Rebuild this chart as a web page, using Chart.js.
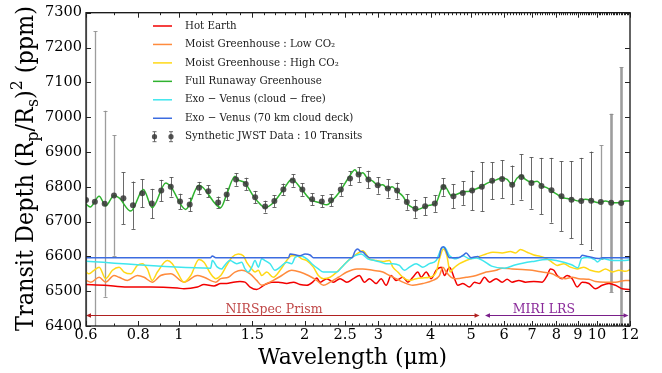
<!DOCTYPE html>
<html><head><meta charset="utf-8">
<script src="https://cdn.jsdelivr.net/npm/chart.js@4.4.1/dist/chart.umd.min.js"></script>
<style>html,body{margin:0;padding:0;background:#fff;}canvas{display:block;}</style>
</head><body>
<canvas id="c" width="662" height="373"></canvas>
<script>
// ---------- DATA ----------
const xTickValues = [0.6,0.8,1,1.5,2,2.5,3,4,5,6,7,8,9,10,12];
const xTickLabels = ['0.6','0.8','1','1.5','2','2.5','3','4','5','6','7','8','9','10','12'];
const yTickValues = [6400,6500,6600,6700,6800,6900,7000,7100,7200,7300];

// Synthetic JWST data (10 transits)
const dataWave = [0.600,0.630,0.665,0.700,0.737,0.777,0.818,0.862,0.908,0.957,1.007,1.062,1.118,1.177,1.242,1.302,1.371,1.446,1.523,1.609,1.693,1.779,1.873,1.975,2.084,2.198,2.313,2.441,2.568,2.692,2.842,2.992,3.162,3.328,3.511,3.681,3.883,4.096,4.295,4.538,4.779,5.031,5.307,5.617,5.934,6.272,6.600,6.973,7.369,7.787,8.228,8.695,9.174,9.692,10.22,10.82,11.43];
const dataDepth = [6762,6757,6751,6775,6767,6747,6781,6752,6789,6800,6758,6749,6797,6787,6755,6778,6821,6808,6770,6743,6759,6792,6818,6792,6764,6758,6761,6792,6824,6835,6821,6804,6795,6789,6756,6737,6744,6752,6799,6773,6782,6789,6800,6817,6822,6806,6828,6811,6802,6790,6773,6763,6759,6760,6756,6754,6753];
const dataError = [600,489,267,173,74,68,40,42,31,28,22,20,17,17,17,17,18,18,18,17,17,17,18,18,17,17,17,18,20,21,25,24,26,23,22,26,26,24,25,34,34,57,71,53,54,55,65,74,81,93,100,111,124,141,163,256,390];

// Full Runaway Greenhouse
const greenWave = [0.600,0.614,0.645,0.669,0.700,0.720,0.768,0.823,0.864,0.931,0.957,1.039,1.118,1.260,1.302,1.363,1.376,1.440,1.508,1.565,1.608,1.683,1.779,1.863,1.969,2.061,2.178,2.260,2.322,2.431,2.545,2.641,2.689,2.755,2.832,2.911,2.993,3.076,3.162,3.238,3.328,3.435,3.531,3.629,3.731,3.835,3.977,4.127,4.242,4.296,4.378,4.483,4.608,4.781,4.958,5.096,5.288,5.486,5.640,5.773,5.934,6.100,6.271,6.445,6.600,6.747,6.974,7.196,7.397,7.604,7.817,8.035,8.227,8.489,8.727,9.055,9.390,9.744,10.111,10.485,10.879,11.289,11.707,12.0];
const greenDepth = [6750,6742,6773,6745,6775,6768,6730,6792,6740,6811,6800,6735,6804,6740,6778,6830,6822,6811,6773,6750,6740,6754,6792,6821,6792,6764,6754,6748,6759,6787,6825,6849,6835,6840,6822,6816,6804,6806,6794,6800,6787,6773,6750,6740,6735,6740,6747,6754,6792,6804,6794,6775,6778,6785,6787,6792,6800,6811,6816,6821,6825,6821,6806,6825,6832,6821,6813,6816,6802,6797,6787,6778,6770,6766,6764,6759,6764,6759,6754,6759,6754,6754,6759,6759];

// Exo-Venus (70 km cloud deck)
const blueWave = [0.6,1.19,1.203,1.226,1.83,1.846,1.95,2.005,2.061,2.099,2.597,2.64,2.68,2.72,2.76,2.80,2.86,4.19,4.242,4.296,4.34,4.44,4.69,4.80,4.87,5.00,5.19,5.25,9.10,9.22,9.50,10.1,10.3,12.0];
const blueDepth = [6596,6596,6601,6596,6596,6607,6602,6607,6604,6596,6596,6615,6621,6614,6612,6604,6596,6596,6623,6628,6621,6596,6597,6604,6610,6596,6600,6596,6596,6603,6600,6594,6596,6596];

// Exo-Venus (cloud-free)
const cyanWave = [0.6,1.192,1.203,1.237,1.269,1.278,1.326,1.376,1.414,1.440,1.467,1.495,1.522,1.550,1.579,1.608,1.653,1.699,1.747,1.812,1.863,1.897,1.950,2.024,2.080,2.157,2.218,2.301,2.388,2.454,2.545,2.641,2.730,2.832,2.937,3.048,3.133,3.251,3.371,3.465,3.562,3.696,3.835,3.977,4.127,4.242,4.320,4.441,4.608,4.781,4.958,5.144,5.337,5.6,6.0,6.4,7.0,7.6,8.0,8.7,9.0,9.2,9.48,9.9,10.02,10.3,10.9,11.5,12.0];
const cyanDepth = [6586,6566,6588,6569,6564,6569,6588,6579,6583,6564,6555,6569,6588,6569,6593,6588,6579,6560,6569,6583,6579,6597,6602,6593,6579,6564,6555,6555,6555,6569,6588,6602,6607,6593,6588,6583,6579,6579,6574,6560,6569,6579,6569,6579,6588,6621,6626,6602,6593,6602,6593,6595,6588,6572,6566,6576,6585,6591,6588,6576,6567,6594,6597,6590,6584,6594,6588,6588,6590];

// Moist Greenhouse: High CO2
const yellowWave = [0.600,0.610,0.627,0.645,0.669,0.694,0.720,0.740,0.768,0.796,0.818,0.841,0.864,0.889,0.939,0.965,0.992,1.029,1.068,1.118,1.149,1.192,1.226,1.260,1.302,1.339,1.388,1.427,1.454,1.495,1.522,1.550,1.579,1.623,1.683,1.747,1.812,1.863,1.915,1.969,2.024,2.099,2.157,2.218,2.301,2.388,2.476,2.569,2.666,2.755,2.857,2.965,3.076,3.190,3.251,3.341,3.435,3.562,3.696,3.835,3.977,4.127,4.203,4.296,4.378,4.458,4.525,4.692,4.867,5.051,5.238,5.435,5.640,5.934,6.212,6.385,6.564,6.811,7.067,7.328,7.604,7.817,8.035,8.336,8.645,8.971,9.308,9.653,10.111,10.485,10.879,11.289,11.707,12.0];
const yellowDepth = [6555,6550,6560,6569,6536,6560,6569,6555,6550,6574,6579,6564,6531,6555,6588,6579,6555,6526,6545,6591,6583,6550,6536,6545,6574,6597,6607,6602,6583,6564,6555,6560,6545,6555,6540,6560,6588,6602,6602,6593,6588,6569,6545,6536,6540,6555,6574,6593,6607,6616,6593,6588,6585,6588,6569,6555,6540,6531,6536,6538,6540,6555,6593,6621,6602,6555,6564,6579,6588,6595,6600,6607,6612,6610,6614,6610,6620,6612,6604,6600,6593,6583,6574,6579,6569,6564,6569,6560,6555,6564,6555,6560,6557,6562];

// Moist Greenhouse: Low CO2
const orangeWave = [0.600,0.616,0.645,0.669,0.700,0.720,0.753,0.796,0.826,0.864,0.905,0.957,1.029,1.108,1.149,1.226,1.260,1.314,1.363,1.414,1.481,1.536,1.579,1.623,1.683,1.763,1.863,1.950,2.042,2.138,2.218,2.301,2.409,2.523,2.666,2.755,2.911,3.076,3.190,3.310,3.435,3.629,3.835,4.053,4.203,4.282,4.361,4.483,4.608,4.867,5.144,5.435,5.741,5.934,6.271,6.626,7.001,7.397,7.817,8.110,8.410,8.727,9.055,9.568,9.923,10.485,11.079,11.707,12.0];
const orangeDepth = [6531,6526,6540,6526,6545,6540,6531,6545,6540,6526,6545,6550,6526,6545,6540,6526,6536,6540,6555,6560,6550,6531,6517,6522,6531,6545,6560,6555,6545,6531,6517,6526,6540,6555,6564,6564,6560,6555,6545,6536,6526,6517,6522,6531,6545,6569,6555,6540,6536,6540,6545,6555,6560,6566,6564,6562,6560,6555,6550,6540,6536,6540,6536,6534,6528,6526,6526,6531,6530];

// Hot Earth
const redWave = [0.600,0.663,0.753,0.857,0.992,1.029,1.108,1.149,1.214,1.260,1.302,1.350,1.401,1.440,1.481,1.536,1.608,1.669,1.730,1.812,1.880,1.950,2.024,2.099,2.138,2.178,2.260,2.343,2.431,2.523,2.616,2.704,2.780,2.857,2.965,3.048,3.133,3.220,3.310,3.435,3.531,3.629,3.731,3.799,3.906,4.015,4.127,4.242,4.320,4.441,4.565,4.651,4.781,4.958,5.096,5.238,5.384,5.535,5.741,5.934,6.100,6.271,6.506,6.747,7.067,7.397,7.604,7.744,7.890,8.035,8.259,8.489,8.727,8.971,9.221,9.568,9.923,10.296,10.683,11.079,11.496,11.929,12.0];
const redDepth = [6519,6517,6512,6512,6509,6507,6512,6519,6515,6522,6522,6526,6528,6526,6512,6505,6519,6526,6526,6522,6526,6519,6517,6528,6538,6526,6536,6526,6536,6526,6536,6545,6526,6536,6522,6536,6517,6545,6531,6540,6526,6540,6555,6540,6555,6536,6560,6569,6545,6569,6536,6517,6522,6512,6526,6522,6540,6526,6536,6526,6534,6526,6531,6526,6528,6526,6545,6564,6560,6545,6536,6545,6536,6512,6526,6522,6507,6517,6522,6517,6507,6505,6504];

// Instrument ranges
const instrumentNames = ['NIRSpec Prism','MIRI LRS'];
const instrumentStart = [0.6, 5.4];
const instrumentEnd = [5.24, 11.9];
const instrumentLabelAt = [1.69, 7.47];
const instrumentArrowDepth = 6431;
const instrumentLabelDepth = 6447;

const legendLabels = ['Hot Earth','Moist Greenhouse : Low CO\u2082','Moist Greenhouse : High CO\u2082','Full Runaway Greenhouse','Exo \u2212 Venus (cloud \u2212 free)','Exo \u2212 Venus (70 km cloud deck)','Synthetic JWST Data : 10 Transits'];

// ---------- STYLE ----------
const SERIF = "'DejaVu Serif', serif";
const C = {red:'#f20000', orange:'#ff8b3d', yellow:'#ffd816', green:'#2fb22f', cyan:'#3fe6ee', blue:'#3c6ce0', pts:'rgba(55,55,55,0.85)'};
const legendColors = [C.red, C.orange, C.yellow, C.green, C.cyan, C.blue];
const instrumentLineColors = ['#b02020', '#7a1f8a'];
const instrumentTextColors = ['#c04848', '#8a2a9a'];

function pts(xs, ys){ return xs.map((x,i)=>({x:x, y:ys[i]})); }
function lineDs(label, xs, ys, color, w){
  return {label, data: pts(xs,ys), showLine:true, borderColor:color, backgroundColor:color, borderWidth:w, pointRadius:0, cubicInterpolationMode:'monotone'};
}

function richWidth(ctx, parts, size, fam){
  let w = 0;
  parts.forEach(p=>{ ctx.font = (p.s ? size*0.7 : size) + 'px ' + fam; w += ctx.measureText(p.t).width; });
  return w;
}
function drawRich(ctx, parts, size, fam, x0, y0){
  let x = x0;
  parts.forEach(p=>{
    const fs = p.s ? size*0.7 : size;
    ctx.font = fs + 'px ' + fam;
    const dy = p.s==='sub' ? size*0.22 : (p.s==='sup' ? -size*0.45 : 0);
    ctx.fillText(p.t, x, y0+dy);
    x += ctx.measureText(p.t).width;
  });
}
function fitSize(ctx, text, fam, target){
  ctx.font = '20px ' + fam;
  return 20 * target / ctx.measureText(text).width;
}

const decor = {
  id:'decor',
  beforeDatasetsDraw(chart){
    const {ctx, chartArea:a, scales:{x,y}} = chart;
    ctx.save();
    ctx.beginPath(); ctx.rect(a.left, a.top, a.right-a.left, a.bottom-a.top); ctx.clip();
    dataWave.forEach((w,i)=>{
      const px = Math.round(x.getPixelForValue(w)) + 0.5;
      const y1 = y.getPixelForValue(dataDepth[i]-dataError[i]);
      const y2 = y.getPixelForValue(dataDepth[i]+dataError[i]);
      const big = dataError[i] > 150;
      ctx.strokeStyle = big ? 'rgba(140,140,140,0.85)' : 'rgba(80,80,80,0.85)';
      ctx.lineWidth = w > 10.5 ? 2.6 : (big ? 1.3 : 1);
      ctx.beginPath(); ctx.moveTo(px, y1); ctx.lineTo(px, y2); ctx.stroke();
      ctx.lineWidth = 1;
      ctx.beginPath();
      ctx.moveTo(px-2, Math.round(y1)+0.5); ctx.lineTo(px+2, Math.round(y1)+0.5);
      ctx.moveTo(px-2, Math.round(y2)+0.5); ctx.lineTo(px+2, Math.round(y2)+0.5);
      ctx.stroke();
    });
    ctx.restore();
  },
  afterDatasetsDraw(chart){
    const {ctx, scales:{x,y}} = chart;
    ctx.save();
    const ya = Math.round(y.getPixelForValue(instrumentArrowDepth)) + 0.5;
    const yt = y.getPixelForValue(instrumentLabelDepth);
    instrumentNames.forEach((name,i)=>{
      const x1 = x.getPixelForValue(instrumentStart[i]);
      const x2 = x.getPixelForValue(instrumentEnd[i]);
      ctx.strokeStyle = instrumentLineColors[i]; ctx.fillStyle = instrumentLineColors[i];
      ctx.lineWidth = 1;
      ctx.beginPath(); ctx.moveTo(x1+2, ya); ctx.lineTo(x2-2, ya); ctx.stroke();
      ctx.beginPath(); ctx.moveTo(x1, ya); ctx.lineTo(x1+5, ya-2.2); ctx.lineTo(x1+5, ya+2.2); ctx.closePath(); ctx.fill();
      ctx.beginPath(); ctx.moveTo(x2, ya); ctx.lineTo(x2-5, ya-2.2); ctx.lineTo(x2-5, ya+2.2); ctx.closePath(); ctx.fill();
      ctx.fillStyle = instrumentTextColors[i];
      ctx.font = '12.5px ' + SERIF;
      ctx.textAlign = 'center'; ctx.textBaseline = 'middle';
      ctx.fillText(name, x.getPixelForValue(instrumentLabelAt[i]), yt);
    });
    ctx.restore();
  },
  afterDraw(chart){
    const {ctx, chartArea:a, scales:{x,y}} = chart;
    ctx.save();
    // frame
    ctx.strokeStyle = '#111'; ctx.lineWidth = 1.3;
    ctx.strokeRect(a.left, a.top, a.right-a.left, a.bottom-a.top);
    // ticks
    ctx.lineWidth = 1; ctx.strokeStyle = '#222';
    ctx.beginPath();
    yTickValues.forEach(v=>{
      const py = Math.round(y.getPixelForValue(v)) + 0.5;
      ctx.moveTo(a.left, py); ctx.lineTo(a.left+5, py);
      ctx.moveTo(a.right, py); ctx.lineTo(a.right-5, py);
    });
    xTickValues.forEach(v=>{
      const px = Math.round(x.getPixelForValue(v)) + 0.5;
      ctx.moveTo(px, a.bottom); ctx.lineTo(px, a.bottom-5);
      ctx.moveTo(px, a.top); ctx.lineTo(px, a.top+5);
    });
    for (let k = 7; k < 120; k++) {
      const v = k/10;
      if (xTickValues.some(t=>Math.abs(t-v)<1e-6)) continue;
      const px = Math.round(x.getPixelForValue(v)) + 0.5;
      ctx.moveTo(px, a.bottom); ctx.lineTo(px, a.bottom-2.5);
      ctx.moveTo(px, a.top); ctx.lineTo(px, a.top+2.5);
    }
    ctx.stroke();

    // legend
    const fsL = fitSize(ctx, legendLabels[3], SERIF, 137);
    ctx.font = fsL + 'px ' + SERIF;
    ctx.textAlign = 'left'; ctx.textBaseline = 'middle'; ctx.fillStyle = '#1a1a1a';
    legendLabels.forEach((lab,i)=>{
      const ry = 26 + i*18.45;
      if (i < 6) {
        ctx.strokeStyle = legendColors[i]; ctx.lineWidth = 1.5;
        ctx.beginPath(); ctx.moveTo(153, ry); ctx.lineTo(172, ry); ctx.stroke();
      } else {
        [154, 170.5].forEach(mx=>{
          ctx.strokeStyle = 'rgba(80,80,80,0.85)'; ctx.lineWidth = 1;
          ctx.beginPath(); ctx.moveTo(mx+0.5, ry-5); ctx.lineTo(mx+0.5, ry+5);
          ctx.moveTo(mx-1.5, ry-5); ctx.lineTo(mx+2.5, ry-5);
          ctx.moveTo(mx-1.5, ry+5); ctx.lineTo(mx+2.5, ry+5); ctx.stroke();
          ctx.fillStyle = C.pts; ctx.beginPath(); ctx.arc(mx+0.5, ry, 2.6, 0, Math.PI*2); ctx.fill();
        });
        ctx.fillStyle = '#1a1a1a';
      }
      ctx.font = fsL + 'px ' + SERIF;
      ctx.fillText(lab, 185, ry);
    });

    // x title
    const xt = 'Wavelength (\u03bcm)';
    const fsX = fitSize(ctx, xt, SERIF, 189);
    ctx.font = fsX + 'px ' + SERIF; ctx.fillStyle = '#000';
    ctx.textAlign = 'center'; ctx.textBaseline = 'alphabetic';
    ctx.fillText(xt, 352.5, 364);

    // y title
    const parts = [{t:'Transit Depth (R'},{t:'p',s:'sub'},{t:'/R'},{t:'s',s:'sub'},{t:')'},{t:'2',s:'sup'},{t:' (ppm)'}];
    const w20 = richWidth(ctx, parts, 20, SERIF);
    const fsY = 20 * 325 / w20;
    const wY = richWidth(ctx, parts, fsY, SERIF);
    ctx.save();
    ctx.translate(33, 168.5);
    ctx.rotate(-Math.PI/2);
    const stretch = Math.min(1.25, 18 / (0.729*fsY));
    ctx.scale(1, stretch);
    ctx.textAlign = 'left'; ctx.textBaseline = 'alphabetic'; ctx.fillStyle = '#000';
    drawRich(ctx, parts, fsY, SERIF, -wY/2, 0);
    ctx.restore();

    ctx.restore();
  }
};

new Chart(document.getElementById('c').getContext('2d'), {
  type: 'scatter',
  data: { datasets: [
    {label:'Synthetic JWST Data', data: pts(dataWave, dataDepth), showLine:false, pointRadius:3, pointBackgroundColor:C.pts, pointBorderWidth:0, pointBorderColor:'rgba(0,0,0,0)'},
    lineDs('Full Runaway Greenhouse', greenWave, greenDepth, C.green, 1.5),
    lineDs('Exo-Venus (70 km cloud deck)', blueWave, blueDepth, C.blue, 1.5),
    lineDs('Exo-Venus (cloud-free)', cyanWave, cyanDepth, C.cyan, 1.5),
    lineDs('Moist Greenhouse: High CO2', yellowWave, yellowDepth, C.yellow, 1.5),
    lineDs('Moist Greenhouse: Low CO2', orangeWave, orangeDepth, C.orange, 1.5),
    lineDs('Hot Earth', redWave, redDepth, C.red, 1.5)
  ]},
  options: {
    responsive:false, animation:false, devicePixelRatio:1, events:[],
    layout:{padding:{left:0, right:32, top:10, bottom:0}},
    plugins:{legend:{display:false}, tooltip:{enabled:false}},
    scales:{
      x:{type:'logarithmic', min:0.6, max:12,
         afterBuildTicks(s){ s.ticks = xTickValues.map(v=>({value:v})); },
         afterFit(s){ s.height = 47; },
         grid:{display:false, drawTicks:false}, border:{display:false},
         ticks:{autoSkip:false, maxRotation:0, minRotation:0, padding:1, color:'#000',
                font:{family:SERIF, size:14.5}, callback(v,i){ return xTickLabels[i]; }}},
      y:{type:'linear', min:6400, max:7300,
         afterBuildTicks(s){ s.ticks = yTickValues.map(v=>({value:v})); },
         afterFit(s){ s.width = 86; },
         grid:{display:false, drawTicks:false}, border:{display:false},
         ticks:{padding:4, color:'#000', font:{family:SERIF, size:14.5}, callback(v){ return String(v); }}}
    }
  },
  plugins:[decor]
});
</script>
</body></html>
